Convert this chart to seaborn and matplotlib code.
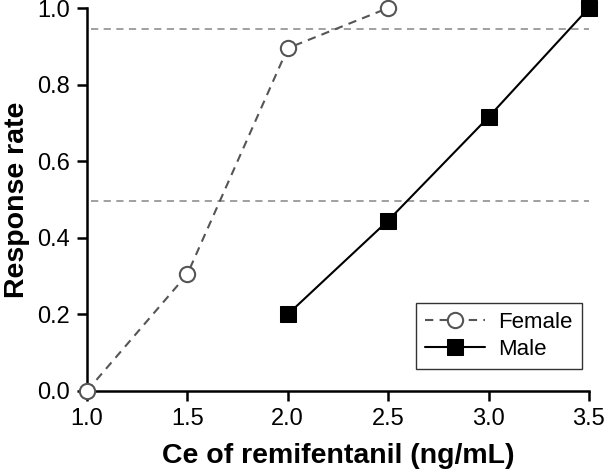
import matplotlib
matplotlib.use("Agg")
import matplotlib.pyplot as plt
import seaborn as sns
import pandas as pd

female_x = [1.0, 1.5, 2.0, 2.5]
female_y = [0.0, 0.305, 0.895, 1.0]
male_x = [2.0, 2.5, 3.0, 3.5]
male_y = [0.20, 0.445, 0.715, 1.0]
ref_lines = [0.945, 0.495]
x_ticks = [1.0, 1.5, 2.0, 2.5, 3.0, 3.5]
y_ticks = [0.0, 0.2, 0.4, 0.6, 0.8, 1.0]

sns.set_theme(style="ticks")
plt.rcParams['font.family'] = ['Liberation Sans', 'DejaVu Sans']
plt.rcParams['text.color'] = 'black'
plt.rcParams['axes.labelcolor'] = 'black'
plt.rcParams['xtick.color'] = 'black'
plt.rcParams['ytick.color'] = 'black'

fig = plt.figure(figsize=(6.04, 4.71), dpi=100)
ax = fig.add_axes([0.144, 0.170, 0.831, 0.813])

for y in ref_lines:
    ax.plot([1.02, 3.5], [y, y], color="#999999", linestyle=(0, (4, 3)), linewidth=1.3, zorder=1)

df_f = pd.DataFrame({"x": female_x, "y": female_y})
df_m = pd.DataFrame({"x": male_x, "y": male_y})

sns.lineplot(data=df_f, x="x", y="y", ax=ax, color="#555555", linestyle=(0, (4, 3)),
             linewidth=1.5, marker="o", markersize=11, markerfacecolor="white",
             markeredgecolor="#555555", markeredgewidth=1.5, label="Female", clip_on=False, zorder=3)
sns.lineplot(data=df_m, x="x", y="y", ax=ax, color="black", linestyle="-",
             linewidth=1.5, marker="s", markersize=11, markerfacecolor="black",
             markeredgecolor="black", label="Male", clip_on=False, zorder=3)

ax.set_xlim(1.0, 3.5)
ax.set_ylim(0.0, 1.0)
ax.set_xticks(x_ticks)
ax.set_yticks(y_ticks)
ax.set_xticklabels([f"{v:.1f}" for v in x_ticks])
ax.set_yticklabels([f"{v:.1f}" for v in y_ticks])
ax.tick_params(axis="both", labelsize=17, direction="out", length=7, width=1.8, colors="black", pad=5)
for s in ["left", "bottom"]:
    ax.spines[s].set_linewidth(1.8)
    ax.spines[s].set_color("black")
sns.despine(ax=ax)

ax.set_xlabel("Ce of remifentanil (ng/mL)", fontsize=20.5, fontweight="bold", labelpad=10)
ax.set_ylabel("Response rate", fontsize=20.5, fontweight="bold", labelpad=5)

leg = ax.legend(loc="lower right", bbox_to_anchor=(0.986, 0.057), borderaxespad=0,
                fontsize=16, frameon=True, fancybox=False, edgecolor="black",
                handlelength=2.7, handletextpad=0.6, borderpad=0.4, labelspacing=0.3)
leg.get_frame().set_linewidth(1.0)
for t in leg.get_texts():
    t.set_color("black")

fig.savefig("out.png", dpi=100)
